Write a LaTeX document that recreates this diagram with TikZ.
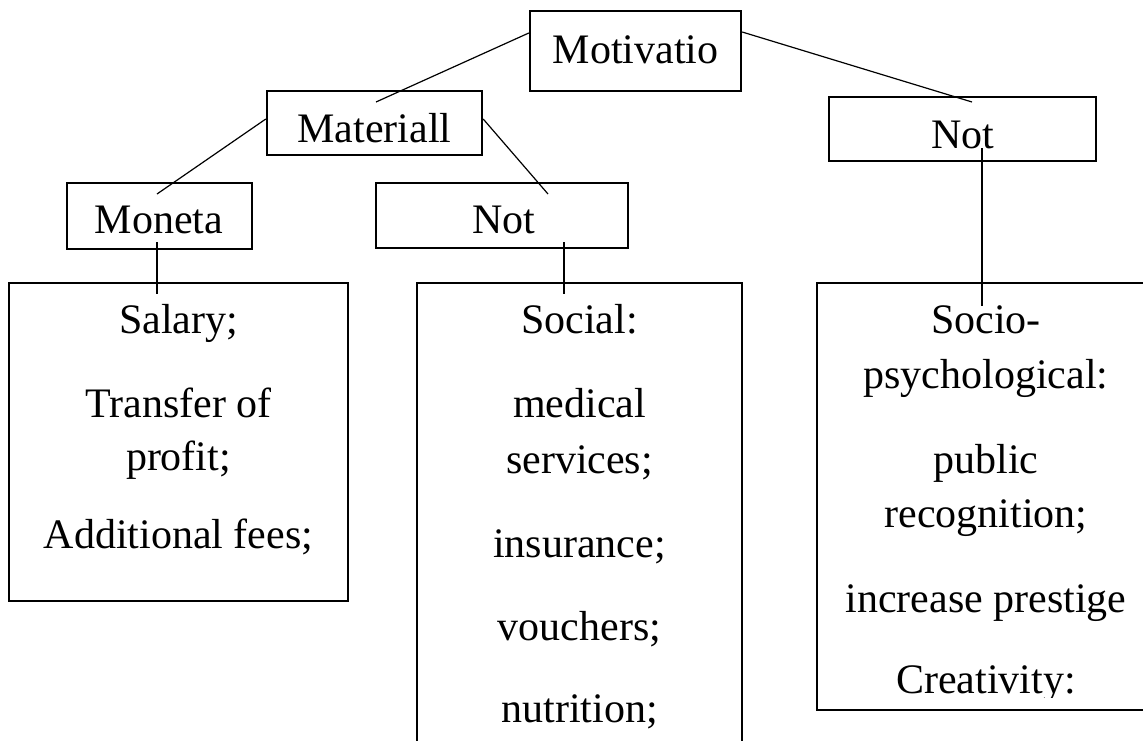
\documentclass[tikz,border=0pt]{standalone}
\usepackage{fontspec}
\setmainfont{Liberation Serif}
\usetikzlibrary{calc}
\begin{document}
\begin{tikzpicture}[x=1pt,y=-1pt,
  box/.style={draw=black,line width=2.4pt,rectangle,inner sep=0pt},
  txt/.style={anchor=base,inner sep=0pt,font=\fontsize{42}{53}\selectfont},
  thin/.style={draw=black,line width=1.2pt},
  stem/.style={draw=black,line width=2.2pt}]
\clip (0,0) rectangle (1143,740);
\fill[white] (0,0) rectangle (1143,740);
% boxes
\node[box,minimum width=211pt,minimum height=80pt] (mot) at (635.5,51) {};
\node[box,minimum width=215pt,minimum height=64pt] (mat) at (374.5,123) {};
\node[box,minimum width=185pt,minimum height=66pt] (mon) at (159.5,216) {};
\node[box,minimum width=252pt,minimum height=65pt] (notm) at (502,215.5) {};
\node[box,minimum width=267pt,minimum height=64pt] (notr) at (962.5,129) {};
\node[box,minimum width=339pt,minimum height=318pt] (lb) at (178.5,442) {};
\node[box,minimum width=325pt,minimum height=517pt] (mb) at (579.5,541.5) {};
\node[box,minimum width=338pt,minimum height=427pt] (rb) at (986,496.5) {};
% labels
\node[txt] (tmot) at (635.5,63) {Motivatio};
\node[txt] (tmat) at (374.5,142) {Materiall};
\node[txt] (tmon) at (159,233) {Moneta};
\node[txt] (tnotm) at (504,233) {Not};
\node[txt] (tnotr) at (962.5,148) {Not};
% left box text
\node[txt] (l1) at (178.5,333) {Salary;};
\node[txt] (l2) at (178.5,417) {Transfer of};
\node[txt] (l3) at (178.5,470) {profit;};
\node[txt] (l4) at (178.5,548) {Additional fees;};
% middle box text
\node[txt] (m1) at (579.5,333) {Social:};
\node[txt] (m2) at (579.5,417) {medical};
\node[txt] (m3) at (579.5,473) {services;};
\node[txt] (m4) at (579.5,557) {insurance;};
\node[txt] (m5) at (579.5,640) {vouchers;};
\node[txt] (m6) at (579.5,722) {nutrition;};
% right box text
\node[txt] (r1) at (986,333) {Socio-};
\node[txt] (r2) at (986,388) {psychological:};
\node[txt] (r3) at (986,473) {public};
\node[txt] (r4) at (986,527) {recognition;};
\node[txt] (r5) at (986,612) {increase prestige};
\begin{scope}
\clip (817,283) rectangle (1155,697);
\node[txt] (r6) at (986,693) {Creativity:};
\end{scope}
% connectors
\draw[thin] ($(mot.west)+(0,-18)$) -- ($(mat.center)+(1.5,-21)$);
\draw[thin] ($(mot.east)+(0,-19)$) -- ($(notr.center)+(9.5,-27)$);
\draw[thin] ($(mat.west)+(0,-4)$) -- ($(mon.center)+(-2.5,-22)$);
\draw[thin] ($(mat.east)+(0,-4)$) -- ($(notm.center)+(46,-21.5)$);
\draw[stem] ($(mon.center)+(-2.5,26)$) -- ($(lb.north)+(-21.5,12)$);
\draw[stem] ($(notm.center)+(62,26.5)$) -- ($(mb.north)+(-15.5,12)$);
\draw[stem] ($(notr.center)+(19.5,19)$) -- ($(rb.north)+(-4,24)$);
\end{tikzpicture}
\end{document}
